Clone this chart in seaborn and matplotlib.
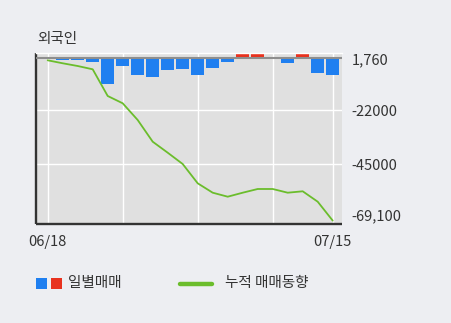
import matplotlib
matplotlib.use("Agg")
import matplotlib.pyplot as plt
import seaborn as sns
import pandas as pd
import numpy as np
from matplotlib.transforms import ScaledTranslation
from matplotlib.patches import Rectangle
from matplotlib.lines import Line2D

# ---- data ----
dates = ["06/18", "06/19", "06/20", "06/21", "06/24", "06/25", "06/26", "06/27", "06/28",
         "07/01", "07/02", "07/03", "07/04", "07/05", "07/08", "07/09", "07/10", "07/11",
         "07/12", "07/15"]
daily = [-400, -800, -800, -1500, -11100, -3300, -7100, -8000, -5000, -4600,
         -7100, -4100, -1500, 1760, 1700, 0, -1800, 1650, -6200, -7100]
cumulative = [-830, -2100, -3260, -4660, -16030, -19140, -26260, -35500, -40180, -45000,
              -53220, -57220, -58920, -57220, -55640, -55640, -57220, -56620, -61050, -69100]
ytick_values = [1760, -22000, -45000, -69100]
ytick_labels = ["1,760", "-22000", "-45000", "-69,100"]
xtick_positions = [0, 5, 10, 15, 19]
xtick_labels = ["06/18", "", "", "", "07/15"]
title = "외국인"
legend_labels = ["일별매매", "누적 매매동향"]

# ---- style ----
BG = "#edeef2"
PLOT_BG = "#e0e0e0"
BLUE = "#1f7ff0"
RED = "#e8321f"
GREEN = "#6bbd2c"
TEXT = "#333333"

sns.set_theme(style="white")
plt.rcParams['font.family'] = ['Noto Sans CJK KR', 'DejaVu Sans']
plt.rcParams['axes.unicode_minus'] = False

W, H = 451, 323
fig = plt.figure(figsize=(W / 100, H / 100), dpi=100, facecolor=BG)
ax = fig.add_axes([36 / W, 1 - 224 / H, 306 / W, 171 / H])
ax.set_facecolor(PLOT_BG)

df = pd.DataFrame({"date": dates, "daily": daily, "cum": cumulative})
df["sign"] = np.where(df["daily"] >= 0, "buy", "sell")
df["pos"] = np.arange(len(df))

sns.barplot(data=df, x="pos", y="daily", hue="sign",
            palette={"buy": RED, "sell": BLUE}, dodge=False, width=13 / 15,
            saturation=1, legend=False, ax=ax, linewidth=0, zorder=2)
sns.lineplot(data=df, x="pos", y="cum", color=GREEN, lw=1.3, ax=ax, zorder=4)

ax.axhline(0, color="#8e8e8e", lw=1.5, zorder=3)
for gy in [-22000, -45000]:
    ax.axhline(gy, color="white", lw=1, zorder=0.5)

ax.set_xlim(-0.78, 19.62)
ax.set_ylim(-70550, 2280)
ax.set_xticks(xtick_positions)
ax.set_xticklabels(xtick_labels)
ax.grid(axis="x", color="white", lw=1, zorder=0.5)
ax.set_axisbelow(True)
ax.set_xlabel("")
ax.set_ylabel("")

ax.yaxis.tick_right()
ax.set_yticks(ytick_values)
ax.set_yticklabels(ytick_labels)
ax.tick_params(axis="y", length=0, pad=7, labelsize=10.5, labelcolor=TEXT, left=False)
ax.tick_params(axis="x", length=0, pad=8, labelsize=10.5, labelcolor=TEXT)
for lab, dy in zip(ax.get_yticklabels(), [-4.8, 0, 0, 5.6]):
    lab.set_transform(lab.get_transform() + ScaledTranslation(0, dy / 100, fig.dpi_scale_trans))

for s in ["left", "bottom"]:
    ax.spines[s].set_color("#333333")
    ax.spines[s].set_linewidth(1.7)
    ax.spines[s].set_capstyle("butt")
ax.spines["top"].set_color("white")
ax.spines["top"].set_linewidth(1)
ax.spines["right"].set_visible(False)

fig.text(37 / W, 1 - 39 / H, title, fontsize=10.5, va="center", ha="left", color=TEXT)

# legend
fig.add_artist(Rectangle((36 / W, 1 - 289 / H), 11 / W, 11 / H, transform=fig.transFigure,
                         color=BLUE, lw=0))
fig.add_artist(Rectangle((51 / W, 1 - 289 / H), 11 / W, 11 / H, transform=fig.transFigure,
                         color=RED, lw=0))
fig.text(68 / W, 1 - 283.5 / H, legend_labels[0], fontsize=10.5, va="center", ha="left", color=TEXT)
fig.add_artist(Line2D([180 / W, 212 / W], [1 - 283.5 / H] * 2, lw=3.2, color=GREEN,
                      transform=fig.transFigure))
fig.text(225 / W, 1 - 283.5 / H, legend_labels[1], fontsize=10.5, va="center", ha="left", color=TEXT)

fig.savefig("out.png", dpi=100, facecolor=BG)
